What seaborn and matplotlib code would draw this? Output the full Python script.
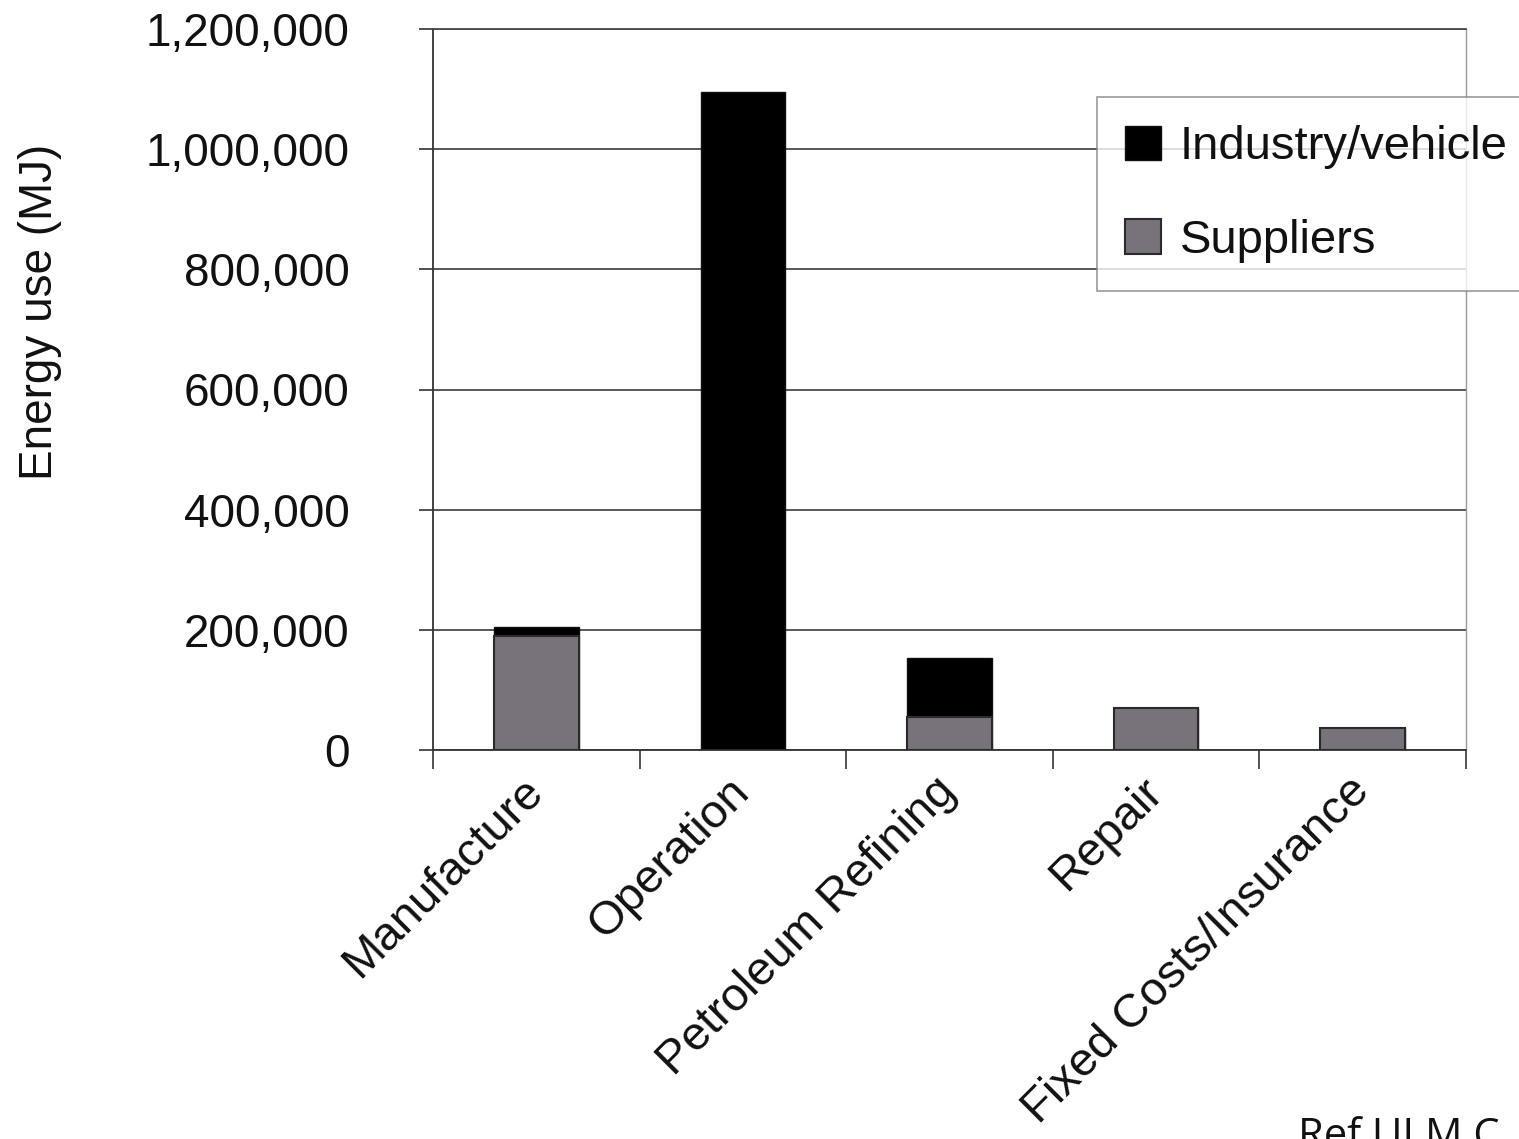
import numpy as np
import pandas as pd
import matplotlib.pyplot as plt
import seaborn as sns
from matplotlib.patches import Patch
from matplotlib.ticker import FuncFormatter
from matplotlib.transforms import ScaledTranslation

# values (MJ)
categories = ['Manufacture', 'Operation', 'Petroleum Refining', 'Repair', 'Fixed Costs/Insurance']
industry_vehicle = [15000, 1095000, 98000, 0, 0]
suppliers = [190000, 0, 55000, 70000, 37000]
y_ticks = [0, 200000, 400000, 600000, 800000, 1000000, 1200000]

sns.set_theme(style='white')
plt.rcParams['font.family'] = ['Liberation Sans', 'DejaVu Sans']

energy_df = pd.DataFrame({'category': categories,
                          'industry': industry_vehicle,
                          'suppliers': suppliers})
energy_df['total'] = energy_df['industry'] + energy_df['suppliers']

grey = '#78727a'

fig = plt.figure(figsize=(15.19, 11.39), dpi=100)
ax = fig.add_axes([433/1519, 1-750/1139, (1466-433)/1519, (750-29)/1139])

# stacked bars: total in black, suppliers drawn over it in grey
sns.barplot(data=energy_df, x='category', y='total', color='black', width=0.41,
            saturation=1, edgecolor='#111111', linewidth=1, ax=ax, zorder=3)
sns.barplot(data=energy_df, x='category', y='suppliers', color=grey, width=0.41,
            saturation=1, edgecolor='#2a2a2a', linewidth=1.5, ax=ax, zorder=3)

ax.set_xlim(-0.5, len(categories)-0.5)
ax.set_ylim(0, 1200000)
ax.set_yticks(y_ticks)
ax.yaxis.set_major_formatter(FuncFormatter(lambda v, p: f'{v:,.0f}'))
ax.yaxis.grid(True, color='#4a4a4a', lw=1.3)
ax.set_axisbelow(True)

# category ticks at the boundaries, labels at the centres
ax.set_xticks(range(len(categories)))
ax.set_xticklabels(categories, rotation=45, ha='right', va='center',
                   rotation_mode='anchor', fontsize=34, color='#111111')
shift = ScaledTranslation(-18/100, 0, fig.dpi_scale_trans)
for lab in ax.get_xticklabels():
    lab.set_transform(lab.get_transform() + shift)
ax.set_xticks(np.arange(-0.5, len(categories), 1), minor=True)
ax.tick_params(axis='x', which='major', length=0, pad=25)
ax.tick_params(axis='x', which='minor', length=14, width=1.2, direction='out',
               color='#333333', bottom=True)
ax.tick_params(axis='y', length=10, width=1.2, direction='out', color='#333333',
               left=True, labelsize=33, labelcolor='#111111', pad=50)

ax.set_xlabel('')
ax.set_ylabel('Energy use (MJ)', fontsize=33, color='#111111')
ax.yaxis.set_label_coords(-(433-62)/1033, (750-312)/721)

for side in ['left', 'bottom']:
    ax.spines[side].set_color('#333333')
    ax.spines[side].set_linewidth(1.3)
ax.spines['top'].set_color('#4a4a4a')
ax.spines['top'].set_linewidth(1.3)
ax.spines['right'].set_color('#9a9a9a')
ax.spines['right'].set_linewidth(1)

handles = [Patch(facecolor='black', edgecolor='#111111'),
           Patch(facecolor=grey, edgecolor='#2a2a2a', linewidth=1.5)]
leg = fig.legend(handles, ['Industry/vehicle', 'Suppliers'], loc='upper left',
                 bbox_to_anchor=(1097/1519, 1-97/1139), fontsize=34,
                 frameon=True, fancybox=False, edgecolor='#808080',
                 handlelength=0.75, handleheight=0.75, handletextpad=0.4,
                 labelspacing=1.05, borderpad=0.6, borderaxespad=0)
leg.get_frame().set_linewidth(1.2)
for t in leg.get_texts():
    t.set_color('#111111')

fig.text(1298/1519, 1-1116/1139, 'Ref UI M C', fontsize=30, va='top',
         family='Open Sans', color='#111111')

plt.savefig('out.png', dpi=100)
